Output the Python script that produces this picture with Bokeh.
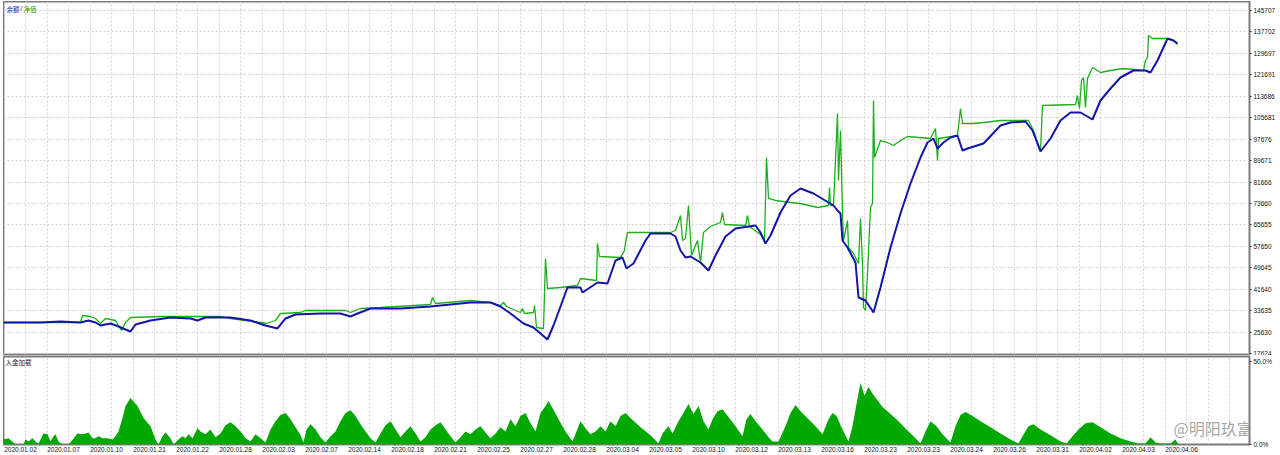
from bokeh.plotting import figure
from bokeh.layouts import column
from bokeh.models import Range1d, FixedTicker, Grid, Label
from bokeh.embed import file_html
from bokeh.resources import INLINE

# ---------------- data ----------------
date_labels = ["2020.01.02", "2020.01.07", "2020.01.10", "2020.01.21", "2020.01.22",
               "2020.01.28", "2020.02.03", "2020.02.07", "2020.02.14", "2020.02.18",
               "2020.02.21", "2020.02.25", "2020.02.27", "2020.02.28", "2020.03.04",
               "2020.03.05", "2020.03.10", "2020.03.12", "2020.03.13", "2020.03.16",
               "2020.03.23", "2020.03.23", "2020.03.24", "2020.03.26", "2020.03.31",
               "2020.04.02", "2020.04.03", "2020.04.06"]

y_tick_values = [17624, 25630, 33635, 41640, 49645, 57650, 65655, 73660, 81666,
                 89671, 97676, 105681, 113686, 121691, 129697, 137702, 145707]

load_tick_values = [0, 50]
load_tick_labels = ["0.0%", "50.0%"]

# balance (余额) – bar index / value
balance_x = [0, 37, 57, 77, 85, 92, 97, 107, 115, 122, 127, 132, 147, 167, 187, 194, 202,
             227, 247, 262, 274, 282, 292, 317, 337, 347, 354, 367, 397, 427, 447, 467,
             487, 497, 507, 520, 530, 544, 550, 564, 577, 579, 594, 604, 612, 619, 623,
             630, 642, 647, 667, 672, 677, 682, 687, 697, 705, 712, 722, 732, 752, 757,
             762, 767, 777, 787, 797, 810, 830, 834, 837, 839, 844, 852, 855, 862, 870,
             877, 887, 897, 907, 917, 924, 930, 934, 940, 947, 954, 959, 964, 980, 997,
             1007, 1022, 1029, 1037, 1047, 1057, 1067, 1077, 1089, 1097, 1107, 1117,
             1130, 1142, 1147, 1154, 1164, 1170, 1174]
balance_y = [29206, 29206, 29580, 29206, 29953, 29206, 28086, 28833, 27713, 26592, 25846,
             28459, 29953, 31073, 30700, 29953, 31073, 31073, 29953, 28086, 26966, 30700,
             32193, 32567, 32567, 31447, 32567, 34434, 34434, 35181, 35927, 36674, 36674,
             35181, 32567, 28833, 27339, 22858, 28086, 42275, 42275, 40408, 44142, 43769,
             52357, 53477, 49370, 51237, 59825, 62439, 62439, 61319, 56091, 53477, 53851,
             51610, 48623, 54224, 61319, 64306, 65426, 62812, 58705, 61692, 70280, 76628,
             79242, 77375, 72894, 71027, 69907, 59825, 57211, 51610, 38541, 37421, 32940,
             42275, 57211, 69907, 81109, 90817, 96418, 97912, 94178, 96418, 98285, 99032,
             93431, 94178, 96045, 102766, 103886, 104260, 100899, 93058, 97912, 104633,
             107620, 107620, 105006, 112101, 116582, 120689, 123303, 123303, 122556,
             127037, 135252, 134505, 133385]

# equity (净值)
equity_x = [0, 77, 79, 87, 92, 97, 102, 112, 115, 118, 122, 127, 157, 192, 217, 227, 242,
            257, 263, 272, 277, 297, 302, 342, 347, 352, 357, 377, 427, 429, 432, 467, 487,
            497, 500, 503, 517, 519, 521, 530, 531, 533, 540, 542, 544, 557, 574, 577, 593,
            594, 596, 617, 621, 622, 624, 667, 672, 677, 679, 682, 685, 688, 694, 697, 700,
            707, 717, 719, 721, 742, 744, 746, 757, 761, 762, 763, 765, 772, 787, 797, 814,
            825, 826, 827, 830, 834, 835, 837, 839, 840, 844, 845, 850, 855, 857, 859, 860,
            862, 864, 867, 869, 870, 871, 877, 884, 890, 897, 904, 927, 932, 934, 935, 954,
            957, 959, 970, 980, 997, 1025, 1030, 1037, 1039, 1072, 1074, 1076, 1078, 1080,
            1082, 1084, 1089, 1097, 1107, 1120, 1140, 1142, 1144, 1145, 1149, 1164, 1170,
            1174]
equity_y = [29206, 29206, 31820, 31447, 30700, 28833, 30700, 29953, 28086, 26219, 29206,
            31073, 31447, 31447, 31447, 30700, 29953, 29206, 28833, 29953, 32567, 32940,
            33687, 33687, 32940, 33687, 34434, 34807, 35927, 38541, 36301, 37421, 36674,
            35554, 36674, 35181, 32940, 34434, 32567, 32940, 35554, 27339, 26966, 53104,
            41902, 42275, 43022, 45636, 44889, 58705, 53851, 53477, 56091, 59078, 62812,
            62812, 63559, 69160, 59825, 60572, 72894, 54224, 59825, 51610, 62812, 65053,
            66546, 70280, 65799, 65426, 69160, 65053, 62065, 59825, 74761, 90817, 75508,
            74761, 74014, 73641, 72147, 72894, 79615, 72894, 72894, 107247, 82229, 100899,
            69907, 59825, 67293, 57211, 54971, 51237, 68040, 51237, 34807, 33687, 47503,
            72147, 73641, 112101, 90817, 97165, 96418, 95298, 97165, 98659, 97912, 101646,
            89697, 97912, 99032, 109114, 103513, 103513, 103886, 104633, 104633, 100899,
            93431, 110234, 110607, 113968, 109114, 119569, 120689, 109487, 120316, 124423,
            122556, 123303, 124050, 123303, 127037, 128157, 136372, 135252, 135252, 134505,
            133011]

# deposit load (入金加载), %
load_x = [0, 5, 12, 20, 22, 25, 29, 32, 35, 40, 44, 47, 50, 52, 55, 59, 64, 67, 74, 79, 82,
          85, 89, 92, 95, 99, 104, 109, 112, 115, 119, 122, 127, 134, 140, 147, 152, 155,
          159, 162, 167, 170, 175, 179, 182, 185, 189, 194, 197, 202, 207, 212, 217, 222,
          227, 232, 237, 242, 247, 252, 257, 262, 267, 272, 277, 282, 287, 292, 297, 300,
          303, 307, 312, 317, 322, 327, 332, 337, 342, 347, 352, 357, 362, 367, 372, 377,
          382, 387, 392, 397, 402, 407, 412, 417, 422, 427, 432, 437, 442, 447, 452, 457,
          462, 467, 472, 477, 482, 487, 492, 497, 502, 507, 512, 517, 522, 527, 532, 537,
          542, 545, 549, 555, 562, 569, 573, 577, 582, 587, 592, 597, 602, 607, 612, 617,
          622, 627, 637, 647, 655, 659, 665, 669, 675, 680, 685, 690, 695, 700, 705, 709,
          714, 719, 725, 732, 739, 743, 747, 752, 759, 765, 769, 775, 782, 787, 792, 797,
          805, 812, 819, 825, 829, 833, 839, 845, 849, 853, 857, 861, 865, 869, 873, 879,
          887, 895, 903, 911, 917, 922, 927, 933, 939, 947, 952, 957, 962, 969, 977, 987,
          997, 1007, 1015, 1019, 1025, 1030, 1037, 1047, 1057, 1063, 1069, 1075, 1082,
          1089, 1097, 1107, 1117, 1127, 1135, 1142, 1147, 1152, 1157, 1167, 1172, 1175]
load_y = [3.0, 3.7, 0.0, 0.0, 3.0, 1.8, 3.7, 1.8, 0.5, 6.7, 6.1, 1.8, 4.9, 6.1, 1.8, 0.0,
          0.0, 1.2, 6.7, 6.1, 6.7, 7.3, 3.7, 3.7, 4.9, 3.7, 3.7, 3.0, 4.9, 7.9, 15.9, 23.2,
          28.0, 23.2, 15.9, 11.0, 3.0, 0.0, 4.9, 7.3, 3.7, 0.0, 3.0, 4.9, 3.7, 6.1, 3.7,
          9.8, 7.9, 6.1, 9.1, 4.3, 6.7, 11.6, 13.4, 11.0, 7.9, 3.7, 1.8, 6.1, 3.7, 1.2,
          9.1, 14.0, 17.7, 18.9, 15.2, 10.4, 5.5, 1.2, 9.1, 12.2, 9.1, 4.3, 1.2, 4.9, 7.9,
          14.0, 18.9, 20.7, 17.1, 12.2, 7.9, 3.7, 1.2, 6.7, 11.6, 14.0, 9.1, 4.3, 7.9, 11.0,
          6.7, 1.8, 4.3, 9.1, 11.6, 13.4, 9.1, 4.9, 1.2, 4.3, 7.9, 6.1, 9.1, 11.0, 7.3, 3.7,
          6.7, 10.4, 7.9, 15.2, 11.0, 17.1, 18.9, 12.8, 7.9, 18.9, 23.2, 26.2, 22.0, 15.2,
          7.9, 1.8, 7.9, 14.0, 9.8, 6.1, 7.9, 11.0, 7.9, 14.0, 11.0, 17.1, 18.9, 15.9, 10.4,
          5.5, 0.6, 6.7, 11.0, 6.7, 14.0, 18.9, 24.4, 18.3, 23.2, 14.0, 9.1, 15.2, 20.1,
          21.3, 16.5, 11.0, 4.9, 15.2, 18.3, 14.0, 9.1, 4.3, 1.8, 1.8, 11.0, 18.9, 23.8,
          20.1, 15.2, 11.0, 6.1, 15.2, 18.9, 17.1, 9.1, 1.8, 11.0, 24.4, 37.2, 29.3, 34.8,
          30.5, 27.4, 22.6, 18.3, 14.0, 9.1, 4.3, 0.6, 7.9, 14.0, 11.0, 6.1, 1.2, 11.0, 17.7,
          19.5, 17.1, 14.0, 10.4, 6.7, 3.0, 0.6, 4.9, 11.0, 12.2, 9.1, 5.5, 1.8, 0.6, 4.9,
          9.1, 12.8, 13.4, 10.4, 6.7, 3.7, 1.8, 0.6, 0.6, 4.3, 1.2, 0.6, 0.6, 3.0, 0.0]

# ---------------- styling constants ----------------
FONT = "Liberation Sans"
CJK = "Noto Sans CJK SC"
BLUE = "#1414a8"
GREEN_LINE = "#1cb01c"
GREEN_AREA = "#00a800"
GRID = "#d0d0d0"
FRAME = "#7a7a7a"
BARS_TOTAL = 1246
BARS_PER_LABEL = 43
GRID_STEP = 21.5

x_grid_ticks = [0.5 + GRID_STEP * k for k in range(58)]
x_label_ticks = [BARS_PER_LABEL * i + 17 for i in range(len(date_labels))]


def style(p):
    p.background_fill_color = "white"
    p.border_fill_color = "white"
    p.outline_line_color = FRAME
    p.outline_line_width = 2
    for g in p.grid:
        g.visible = False
    p.add_layout(Grid(dimension=0, ticker=FixedTicker(ticks=x_grid_ticks),
                      grid_line_color=GRID, grid_line_dash="2 2", grid_line_width=1))


# ---------------- top panel ----------------
p1 = figure(width=1275, height=354, output_backend="svg", toolbar_location=None,
            x_axis_location=None, y_axis_location="right",
            x_range=Range1d(0, BARS_TOTAL), y_range=Range1d(17257, 149068),
            min_border_left=0, min_border_top=0, min_border_bottom=1, min_border_right=29)
style(p1)
p1.add_layout(Grid(dimension=1, ticker=FixedTicker(ticks=y_tick_values),
                   grid_line_color=GRID, grid_line_dash="2 2", grid_line_width=1))
ya = p1.yaxis[0]
ya.ticker = FixedTicker(ticks=y_tick_values)
ya.major_label_overrides = {v: str(v) for v in y_tick_values}
ya.minor_tick_line_color = None
ya.major_tick_out = 2
ya.major_tick_in = 0
ya.major_tick_line_color = "#333333"
ya.axis_line_color = None
ya.major_label_standoff = 2
ya.major_label_text_font = FONT
ya.major_label_text_font_size = "6.5px"
ya.major_label_text_color = "#111111"

p1.line(equity_x, equity_y, line_color=GREEN_LINE, line_width=1.3)
p1.line(balance_x, balance_y, line_color=BLUE, line_width=2)

p1.add_layout(Label(x=3, y=146454, text="余额", text_font=CJK, text_font_size="6.5px",
                    text_color="#2020c0", text_baseline="middle"))
p1.add_layout(Label(x=17, y=146454, text="/", text_font=FONT, text_font_size="6.5px",
                    text_color="#333333", text_baseline="middle"))
p1.add_layout(Label(x=20, y=146454, text="净值", text_font=CJK, text_font_size="6.5px",
                    text_color="#10a010", text_baseline="middle"))

# ---------------- bottom panel ----------------
p2 = figure(width=1275, height=99, output_backend="svg", toolbar_location=None,
            x_axis_location="below", y_axis_location="right",
            x_range=Range1d(0, BARS_TOTAL), y_range=Range1d(0, 53),
            min_border_left=0, min_border_top=1, min_border_bottom=0, min_border_right=29)
style(p2)
p2.varea(x=load_x, y1=[0] * len(load_x), y2=load_y, fill_color=GREEN_AREA)

xa = p2.xaxis[0]
xa.ticker = FixedTicker(ticks=x_label_ticks)
xa.major_label_overrides = {t: d for t, d in zip(x_label_ticks, date_labels)}
xa.major_tick_line_color = None
xa.major_tick_out = 0
xa.major_tick_in = 0
xa.minor_tick_line_color = None
xa.axis_line_color = None
xa.major_label_standoff = 2
xa.major_label_text_font = FONT
xa.major_label_text_font_size = "6.5px"
xa.major_label_text_color = "#111111"

ya2 = p2.yaxis[0]
ya2.ticker = FixedTicker(ticks=load_tick_values)
ya2.major_label_overrides = {v: s for v, s in zip(load_tick_values, load_tick_labels)}
ya2.minor_tick_line_color = None
ya2.major_tick_out = 2
ya2.major_tick_in = 0
ya2.major_tick_line_color = "#333333"
ya2.axis_line_color = None
ya2.major_label_standoff = 2
ya2.major_label_text_font = FONT
ya2.major_label_text_font_size = "6.5px"
ya2.major_label_text_color = "#111111"

p2.add_layout(Label(x=2, y=49.4, text="入金加载", text_font=CJK, text_font_size="6.5px",
                    text_color="#222222", text_baseline="middle"))
p2.add_layout(Label(x=1170, y=9.8, text="@明阳玖富", text_font=CJK, text_font_size="16px",
                    text_color="#9c9c9c", text_baseline="middle", text_alpha=0.9))

layout = column(p1, p2, spacing=0, styles={"margin-left": "3px", "margin-top": "1px"})

open("out.html", "w").write(file_html(layout, INLINE))
